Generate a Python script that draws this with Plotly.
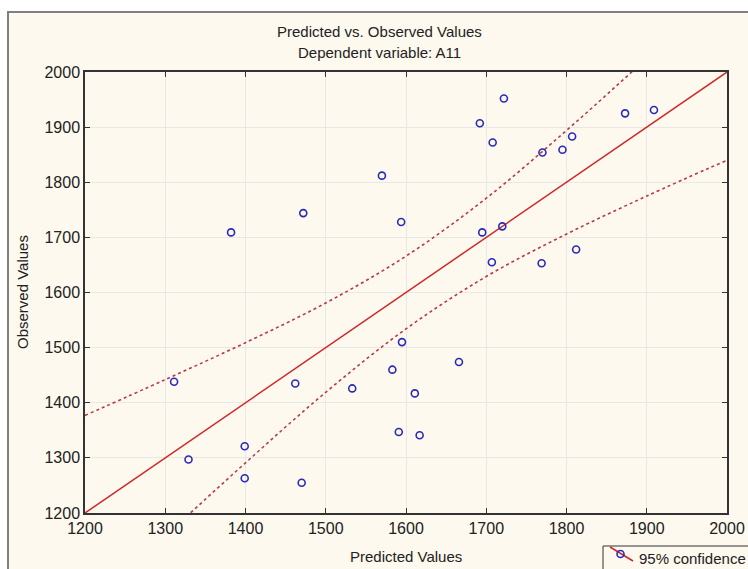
import plotly.graph_objects as go

# ---- data ----
pred = [1311, 1329, 1399, 1399, 1462, 1470, 1533, 1595, 1583, 1666,
        1611, 1591, 1617, 1382, 1472, 1570, 1594, 1722, 1692, 1708,
        1873, 1909, 1807, 1795, 1770, 1695, 1720, 1707, 1769, 1812]
obs = [1438, 1297, 1321, 1263, 1435, 1255, 1426, 1510, 1460, 1474,
       1417, 1347, 1341, 1709, 1744, 1812, 1728, 1952, 1907, 1872,
       1925, 1931, 1883, 1859, 1854, 1709, 1720, 1655, 1653, 1678]

fit_x = [1200, 2000]
fit_y = [1200, 2000]

band_x = [1200, 1300, 1400, 1500, 1600, 1700, 1800, 1900, 2000]
band_upper = [1377, 1442, 1509, 1581, 1666, 1771, 1894, 2025, 2160]
band_lower = [1023, 1158, 1291, 1419, 1534, 1629, 1706, 1775, 1840]

tick_vals = [1200, 1300, 1400, 1500, 1600, 1700, 1800, 1900, 2000]

title_line1 = "Predicted vs. Observed Values"
title_line2 = "Dependent variable: A11"
x_title = "Predicted Values"
y_title = "Observed Values"
legend_label = "95% confidence"

# ---- figure ----
W, H = 748, 569
L, R, T, B = 85, 727, 72, 513  # plot area in page pixels
pw, ph = R - L, B - T


def px(x):
    return (x - L) / pw


def py(y):
    return (B - y) / ph


FONT = "Liberation Sans, Arial, sans-serif"
CREAM = "#fdf9ee"
RED = "#d02828"
DASH_RED = "#b83848"
BLUE = "#2a2ab8"
TXT = "#222222"

fig = go.Figure()

fig.add_trace(go.Scatter(x=band_x, y=band_upper, mode="lines",
                         line=dict(color=DASH_RED, width=1.6, dash="3px,3px", shape="spline"),
                         showlegend=False, hoverinfo="skip"))
fig.add_trace(go.Scatter(x=band_x, y=band_lower, mode="lines",
                         line=dict(color=DASH_RED, width=1.6, dash="3px,3px", shape="spline"),
                         showlegend=False, hoverinfo="skip"))
fig.add_trace(go.Scatter(x=fit_x, y=fit_y, mode="lines",
                         line=dict(color=RED, width=1.5),
                         showlegend=False, hoverinfo="skip"))
fig.add_trace(go.Scatter(x=pred, y=obs, mode="markers",
                         marker=dict(symbol="circle-open", size=7, color=BLUE,
                                     line=dict(width=1.6, color=BLUE)),
                         showlegend=False))

axis_common = dict(
    range=[1200, 2000], tickvals=tick_vals, ticks="inside", ticklen=5,
    tickcolor="#333333", showline=True, linecolor="#333333", linewidth=1.5,
    mirror="ticks", showgrid=True, gridcolor="#e8e8e8", gridwidth=1,
    zeroline=False, automargin=False, tickfont=dict(family=FONT, size=16, color=TXT),
)

# legend drawn as decoration (box, swatch line, swatch circle)
r_px = 3.5
shapes = [
    dict(type="rect", xref="paper", yref="paper", layer="below",
         x0=px(8), x1=px(770), y0=py(600), y1=py(12),
         fillcolor=CREAM, line=dict(color="#808080", width=2)),
    dict(type="rect", xref="paper", yref="paper",
         x0=px(603), x1=px(760), y0=py(575), y1=py(546),
         fillcolor=CREAM, line=dict(color="#333333", width=1)),
    dict(type="line", xref="paper", yref="paper",
         x0=px(610), x1=px(633), y0=py(547), y1=py(561),
         line=dict(color=RED, width=1.5)),
    dict(type="circle", xref="paper", yref="paper",
         x0=px(620.5 - r_px), x1=px(620.5 + r_px), y0=py(554 + r_px), y1=py(554 - r_px),
         line=dict(color=BLUE, width=1.6), fillcolor="rgba(0,0,0,0)"),
]


def ann(text, x, y, size=15, angle=0, xanchor="center"):
    return dict(text=text, xref="paper", yref="paper", x=px(x), y=py(y),
                xanchor=xanchor, yanchor="middle", textangle=angle,
                showarrow=False, font=dict(family=FONT, size=size, color=TXT))


fig.update_layout(
    template="none",
    width=W, height=H,
    margin=dict(l=L, r=W - R, t=T, b=H - B, pad=0),
    paper_bgcolor="white", plot_bgcolor="white",
    font=dict(family=FONT, color=TXT),
    xaxis=dict(**axis_common),
    yaxis=dict(**axis_common),
    showlegend=False,
    shapes=shapes,
    annotations=[
        ann(title_line1, 379, 32),
        ann(title_line2, 379, 52),
        ann(x_title, 406, 556),
        ann(y_title, 22, 292, angle=-90),
        ann(legend_label, 637, 558, xanchor="left"),
    ],
)

fig.write_html(
    "out.html",
    config={"displayModeBar": False},
    post_script="document.body.style.margin='0px';document.body.style.overflow='hidden';",
)
